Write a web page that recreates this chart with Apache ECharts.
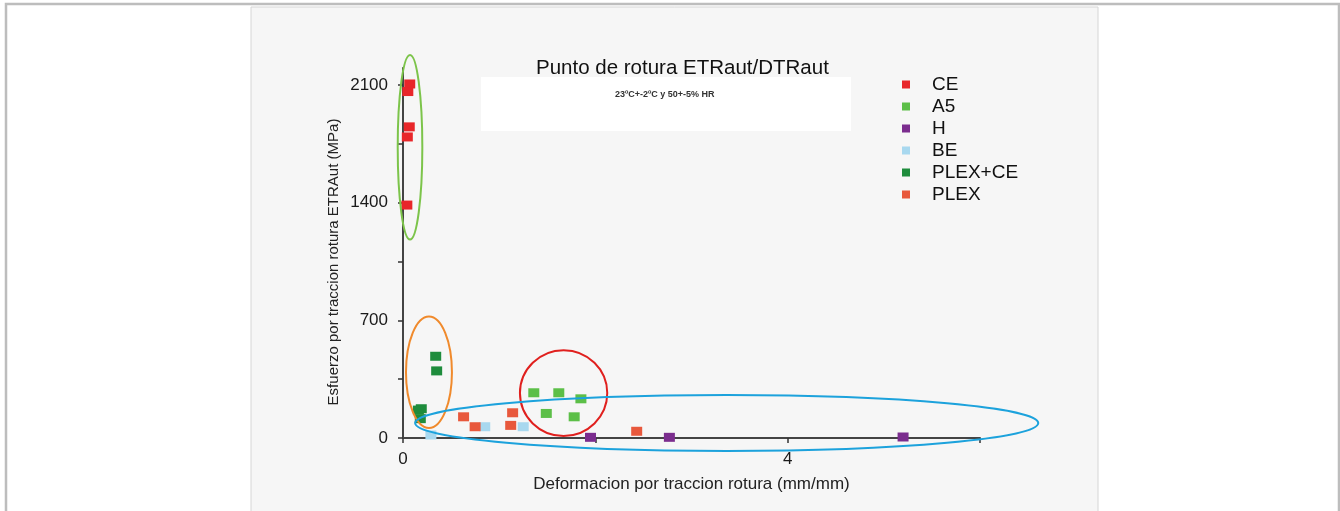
<!DOCTYPE html>
<html>
<head>
<meta charset="utf-8">
<script src="https://cdn.jsdelivr.net/npm/echarts@6/dist/echarts.min.js"></script>
<style>
  html, body { margin: 0; background: #fff; }
  #main { width: 1340px; height: 511px; }
</style>
</head>
<body>
<div id="main"></div>
<script>
// series names, in legend order
const seriesNames = ["CE", "A5", "H", "BE", "PLEX+CE", "PLEX"];
const seriesColors = ["#e8262a", "#5cbf48", "#7b2d8e", "#a8d8ef", "#1e8c3c", "#e8583c"];

// [deformacion (mm/mm), esfuerzo (MPa)]
const ceData = [[0.07, 2105], [0.05, 2060], [0.065, 1850], [0.045, 1790], [0.04, 1385]];
const a5Data = [[1.36, 269], [1.62, 269], [1.85, 233], [1.49, 146], [1.78, 126]];
const hData = [[1.95, 4], [2.77, 4], [5.2, 6]];
const beData = [[0.29, 18], [0.85, 67], [1.25, 67]];
const plexCeData = [[0.34, 486], [0.35, 399], [0.19, 174], [0.16, 166], [0.18, 115]];
const plexData = [[0.63, 126], [0.75, 67], [1.14, 150], [1.12, 75], [2.43, 40]];

const xTickLabels = [0, 4];
const xTicks = [0, 2, 4, 6];
const yTickLabels = [0, 700, 1400, 2100];
const yTicks = [0, 350, 700, 1050, 1400, 1750, 2100];

// hand drawn ellipses round the groups: [cx, cy, rx, ry, colour] in data units
const groupRings = [
  [0.073, 1729, 0.128, 549, "#7cc44a"],
  [0.27, 391, 0.239, 332, "#f08a2c"],
  [1.67, 267, 0.454, 255, "#e0201e"],
  [3.366, 89, 3.24, 166, "#1ca2dc"],
];

const allData = [ceData, a5Data, hData, beData, plexCeData, plexData];
const font = "Liberation Sans";

var chartDom = document.getElementById("main");
var myChart = echarts.init(chartDom);

const frame = [
  // page frame
  { type: "rect", z: -100, shape: { x: 6, y: 4, width: 1333, height: 520 },
    style: { fill: "#fff", stroke: "#bdbdbd", lineWidth: 2.5 } },
  // chart panel
  { type: "rect", z: -90, shape: { x: 251, y: 7, width: 847, height: 520 },
    style: { fill: "#f6f6f6", stroke: "#d6d6d6", lineWidth: 1 } },
  // subtitle box
  { type: "rect", z: -80, shape: { x: 481, y: 77, width: 370, height: 54 },
    style: { fill: "#fff" } },
  { type: "text", z: 10, left: 615, top: 90,
    style: { text: "23ºC+-2ºC y 50+-5% HR", font: "bold 9px " + font, fill: "#333" } },
];

var option = {
  backgroundColor: "#fff",
  animation: false,
  title: {
    text: "Punto de rotura ETRaut/DTRaut",
    left: 531,
    top: 53,
    textStyle: { fontFamily: font, fontSize: 20.5, fontWeight: "normal", color: "#111" },
  },
  legend: {
    orient: "vertical",
    left: 897,
    top: 70,
    itemWidth: 8,
    itemHeight: 8,
    itemGap: 3,
    icon: "rect",
    data: seriesNames,
    textStyle: { fontFamily: font, fontSize: 19, color: "#111", padding: [0, 0, 0, 17] },
  },
  grid: { left: 403, right: 360, top: 68, bottom: 73 },
  xAxis: {
    type: "value",
    min: 0,
    max: 6,
    interval: 2,
    splitLine: { show: false },
    axisLine: { lineStyle: { color: "#444", width: 2 } },
    axisTick: { customValues: xTicks, length: 5, lineStyle: { color: "#333", width: 1.5 } },
    axisLabel: { customValues: xTickLabels, margin: 13, fontFamily: font, fontSize: 17, color: "#1a1a1a" },
    name: "Deformacion por traccion rotura (mm/mm)",
    nameLocation: "middle",
    nameGap: 38,
    nameTextStyle: { fontFamily: font, fontSize: 17, color: "#222" },
  },
  yAxis: {
    type: "value",
    min: 0,
    max: 2200,
    interval: 350,
    splitLine: { show: false },
    axisLine: { lineStyle: { color: "#444", width: 2 } },
    axisTick: { customValues: yTicks, length: 5, lineStyle: { color: "#333", width: 1.5 } },
    axisLabel: {
      customValues: yTickLabels,
      margin: 15,
      fontFamily: font,
      fontSize: 17,
      color: "#1a1a1a",
      formatter: function (v) { return String(v); },
    },
    name: "Esfuerzo por traccion rotura ETRAut (MPa)",
    nameLocation: "middle",
    nameGap: 62,
    nameTextStyle: { fontFamily: font, fontSize: 15, color: "#222", padding: [0, 18, 0, 0] },
  },
  series: seriesNames.map(function (name, i) {
    return {
      name: name,
      type: "scatter",
      symbol: "rect",
      symbolSize: [11, 9],
      itemStyle: { color: seriesColors[i], opacity: 1 },
      data: allData[i],
    };
  }),
  graphic: frame,
};

myChart.setOption(option);

// place the rings once the axes exist
const rings = groupRings.map(function (r) {
  const c = myChart.convertToPixel({ gridIndex: 0 }, [r[0], r[1]]);
  const e = myChart.convertToPixel({ gridIndex: 0 }, [r[0] + r[2], r[1] + r[3]]);
  return {
    type: "ellipse",
    z: 100,
    shape: { cx: c[0], cy: c[1], rx: Math.abs(e[0] - c[0]), ry: Math.abs(c[1] - e[1]) },
    style: { fill: null, stroke: r[4], lineWidth: 2 },
  };
});
myChart.setOption({ graphic: frame.concat(rings) });
</script>
</body>
</html>
